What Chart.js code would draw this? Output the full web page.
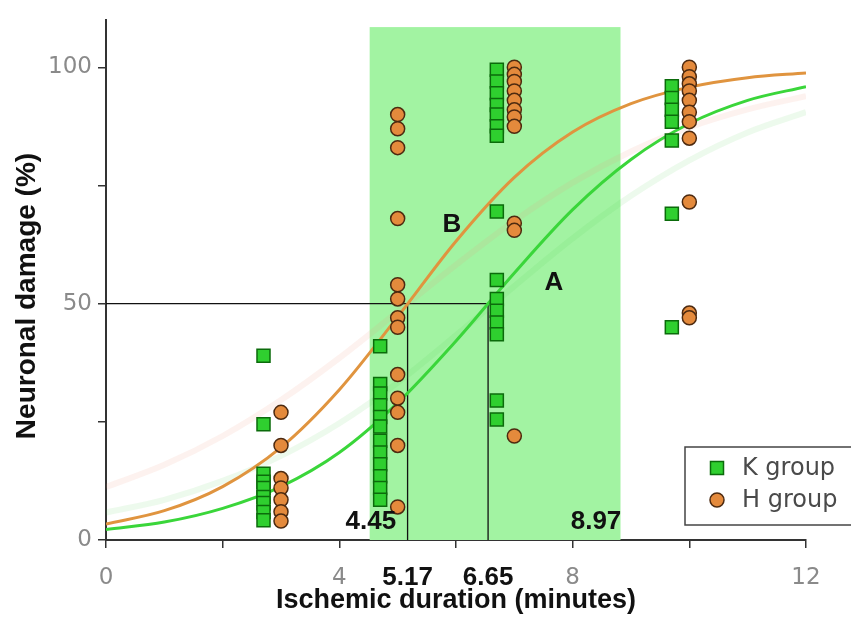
<!DOCTYPE html>
<html>
<head>
<meta charset="utf-8">
<script src="https://cdn.jsdelivr.net/npm/chart.js@4.4.1/dist/chart.umd.min.js"></script>
<style>
  html, body { margin: 0; padding: 0; background: #fff; }
  #wrap { width: 851px; height: 628px; }
</style>
</head>
<body>
<div id="wrap"><canvas id="chart" width="851" height="628"></canvas></div>
<script>
// duration columns (minutes) and neuronal damage (%)
const kDurations = [2.7, 4.7, 6.7, 9.7];
const kDamage = [
  [39, 24.5, 14, 12.3, 11, 9.1, 7.8, 5.9, 4.2],
  [41, 33, 31, 28.5, 26, 24, 21, 18.5, 16, 13.5, 11, 8.5],
  [99.5, 97, 94.5, 92, 90, 87.5, 85.5, 69.5, 55, 51, 48.5, 46, 43.5, 29.5, 25.5],
  [96, 93.5, 91, 88.5, 84.5, 69, 45]
];
const hDurations = [3, 5, 7, 10];
const hDamage = [
  [27, 20, 13, 11, 8.5, 6, 4],
  [90, 87, 83, 68, 54, 51, 47, 45, 35, 30, 27, 20, 7],
  [100, 98.5, 97, 95, 93, 91, 89.5, 87.5, 67, 65.5, 22],
  [100, 98, 96.5, 95, 93, 90.5, 88.5, 85, 71.5, 48, 47]
];

// fitted curves, read at whole minutes
const curveX = [0, 1, 2, 3, 4, 5, 6, 7, 8, 9, 10, 11, 12];
const curveH = [3.4, 6.2, 11.3, 19.6, 31.8, 47.2, 63.2, 76.7, 86.3, 92.3, 95.8, 97.8, 98.8];
const curveK = [2.2, 3.8, 6.7, 11.3, 18.5, 29.0, 42.1, 56.5, 69.9, 80.5, 88.1, 93.0, 95.9];
const bandH = [11.2, 15.9, 22.0, 29.6, 38.5, 48.3, 58.2, 67.5, 75.6, 82.2, 87.3, 91.1, 93.9];
const bandK = [5.8, 8.5, 12.5, 17.8, 24.7, 33.3, 43.3, 53.7, 63.8, 72.8, 80.3, 86.2, 90.5];

// 50% crossings and the shaded window
const ed50H = 5.17;
const ed50K = 6.55;
const windowFrom = 4.52;
const windowTo = 8.82;
const windowTop = 108.5;

const xTicks = [0, 2, 4, 6, 8, 10, 12];
const xLabels = [0, 4, 8, 12];
const yTicks = [0, 25, 50, 75, 100];
const yLabels = [0, 50, 100];

const notes = [
  { text: '4.45', x: 4.54, y: 3.8 },
  { text: '8.97', x: 8.4, y: 3.8 },
  { text: 'B', x: 5.93, y: 66.6 },
  { text: 'A', x: 7.68, y: 54.4 }
];
const belowAxis = [
  { text: '5.17', x: 5.17 },
  { text: '6.65', x: 6.55 }
];

const NARROW = "'Liberation Sans Narrow', 'Arial Narrow', 'Liberation Sans', Arial, sans-serif";
const GREEN = '#2fcf2f', GREEN_EDGE = '#0b6b0b';
const ORANGE = '#e48a3c', ORANGE_EDGE = '#4d2a10';

function columns(xs, ys) {
  const pts = [];
  xs.forEach((x, i) => ys[i].forEach(y => pts.push({ x: x, y: y })));
  return pts;
}
function curve(ys) {
  return curveX.map((x, i) => ({ x: x, y: ys[i] }));
}

const windowPlugin = {
  id: 'window',
  beforeDatasetsDraw(chart) {
    const { ctx, scales: { x, y } } = chart;
    const l = x.getPixelForValue(windowFrom), r = x.getPixelForValue(windowTo);
    const t = y.getPixelForValue(windowTop), b = y.getPixelForValue(0);
    ctx.save();
    ctx.fillStyle = '#a2f3a2';
    ctx.fillRect(l, t, r - l, b - t);
    ctx.restore();
  }
};

const notesPlugin = {
  id: 'notes',
  afterDraw(chart) {
    const { ctx, scales: { x, y } } = chart;
    ctx.save();
    ctx.fillStyle = '#111';
    ctx.textAlign = 'center';
    ctx.textBaseline = 'middle';
    ctx.font = 'bold 26px ' + NARROW;
    notes.forEach(n => ctx.fillText(n.text, x.getPixelForValue(n.x), y.getPixelForValue(n.y)));
    belowAxis.forEach(n => ctx.fillText(n.text, x.getPixelForValue(n.x), y.getPixelForValue(0) + 38));

    // y axis title, sits a bit below the axis middle in the original
    ctx.save();
    ctx.translate(27, 296);
    ctx.rotate(-Math.PI / 2);
    ctx.font = 'bold 28px ' + NARROW;
    ctx.fillText('Neuronal damage (%)', 0, 0);
    ctx.restore();

    // legend box
    const bx = 685, by = 447;
    ctx.strokeStyle = '#444';
    ctx.lineWidth = 1.5;
    ctx.fillStyle = '#fff';
    ctx.fillRect(bx, by, 180, 78);
    ctx.strokeRect(bx, by, 180, 78);
    ctx.fillStyle = GREEN; ctx.strokeStyle = GREEN_EDGE; ctx.lineWidth = 1.5;
    ctx.beginPath(); ctx.rect(710.5, 461.5, 13, 13); ctx.fill(); ctx.stroke();
    ctx.fillStyle = ORANGE; ctx.strokeStyle = ORANGE_EDGE;
    ctx.beginPath(); ctx.arc(717, 500, 7, 0, Math.PI * 2); ctx.fill(); ctx.stroke();
    ctx.fillStyle = '#4a4a4a';
    ctx.textAlign = 'left';
    ctx.font = '24px "DejaVu Sans", sans-serif';
    ctx.fillText('K group', 742, 469);
    ctx.fillText('H group', 742, 501);
    ctx.restore();
  }
};

const tickFont = { family: '"DejaVu Sans", sans-serif', size: 23 };

new Chart(document.getElementById('chart'), {
  type: 'scatter',
  data: {
    datasets: [
      {
        label: 'H group',
        data: columns(hDurations, hDamage),
        pointStyle: 'circle',
        pointRadius: 7,
        backgroundColor: ORANGE,
        borderColor: ORANGE_EDGE,
        borderWidth: 1.5,
        order: 1
      },
      {
        label: 'K group',
        data: columns(kDurations, kDamage),
        pointStyle: 'rect',
        pointRadius: 9.2,
        backgroundColor: GREEN,
        borderColor: GREEN_EDGE,
        borderWidth: 1.5,
        order: 2
      },
      {
        label: 'B',
        type: 'line',
        data: curve(curveH),
        borderColor: '#e0943f',
        borderWidth: 3,
        pointRadius: 0,
        cubicInterpolationMode: 'monotone',
        order: 3
      },
      {
        label: 'A',
        type: 'line',
        data: curve(curveK),
        borderColor: '#3ad63a',
        borderWidth: 3,
        pointRadius: 0,
        cubicInterpolationMode: 'monotone',
        order: 4
      },
      {
        label: 'B band',
        type: 'line',
        data: curve(bandH),
        borderColor: 'rgba(240, 150, 120, 0.12)',
        borderWidth: 6,
        pointRadius: 0,
        cubicInterpolationMode: 'monotone',
        order: 5
      },
      {
        label: 'A band',
        type: 'line',
        data: curve(bandK),
        borderColor: 'rgba(80, 210, 80, 0.1)',
        borderWidth: 6,
        pointRadius: 0,
        cubicInterpolationMode: 'monotone',
        order: 6
      },
      {
        label: 'ED50 K',
        type: 'line',
        data: [{ x: 0, y: 50 }, { x: ed50K, y: 50 }, { x: ed50K, y: 0 }],
        borderColor: '#111',
        borderWidth: 1.3,
        pointRadius: 0,
        order: 7
      },
      {
        label: 'ED50 H',
        type: 'line',
        data: [{ x: ed50H, y: 50 }, { x: ed50H, y: 0 }],
        borderColor: '#111',
        borderWidth: 1.3,
        pointRadius: 0,
        order: 8
      }
    ]
  },
  options: {
    responsive: false,
    animation: false,
    devicePixelRatio: 1,
    layout: { padding: { top: 20, right: 45, left: 0, bottom: 0 } },
    plugins: {
      legend: { display: false },
      tooltip: { enabled: false }
    },
    scales: {
      x: {
        type: 'linear',
        min: 0,
        max: 12,
        afterBuildTicks: s => { s.ticks = xTicks.map(v => ({ value: v })); },
        afterFit: s => { s.height = 88; },
        ticks: {
          color: '#8a8a8a',
          font: tickFont,
          padding: 16,
          callback: v => xLabels.includes(v) ? String(v) : ''
        },
        grid: { drawOnChartArea: false, drawTicks: true, tickLength: 8, color: '#333', lineWidth: 1.5 },
        border: { display: true, color: '#333', width: 2 },
        title: {
          display: true,
          text: 'Ischemic duration (minutes)',
          color: '#111',
          font: { family: NARROW, size: 27, weight: 'bold' },
          padding: { top: 0, bottom: 11 }
        }
      },
      y: {
        type: 'linear',
        min: 0,
        max: 110,
        afterBuildTicks: s => { s.ticks = yTicks.map(v => ({ value: v })); },
        afterFit: s => { s.width = 106; },
        ticks: {
          color: '#8a8a8a',
          font: tickFont,
          padding: 6,
          callback: v => yLabels.includes(v) ? String(v) : ''
        },
        grid: { drawOnChartArea: false, drawTicks: true, tickLength: 8, color: '#333', lineWidth: 1.5 },
        border: { display: true, color: '#333', width: 2 },
        title: { display: false }
      }
    }
  },
  plugins: [windowPlugin, notesPlugin]
});
</script>
</body>
</html>
